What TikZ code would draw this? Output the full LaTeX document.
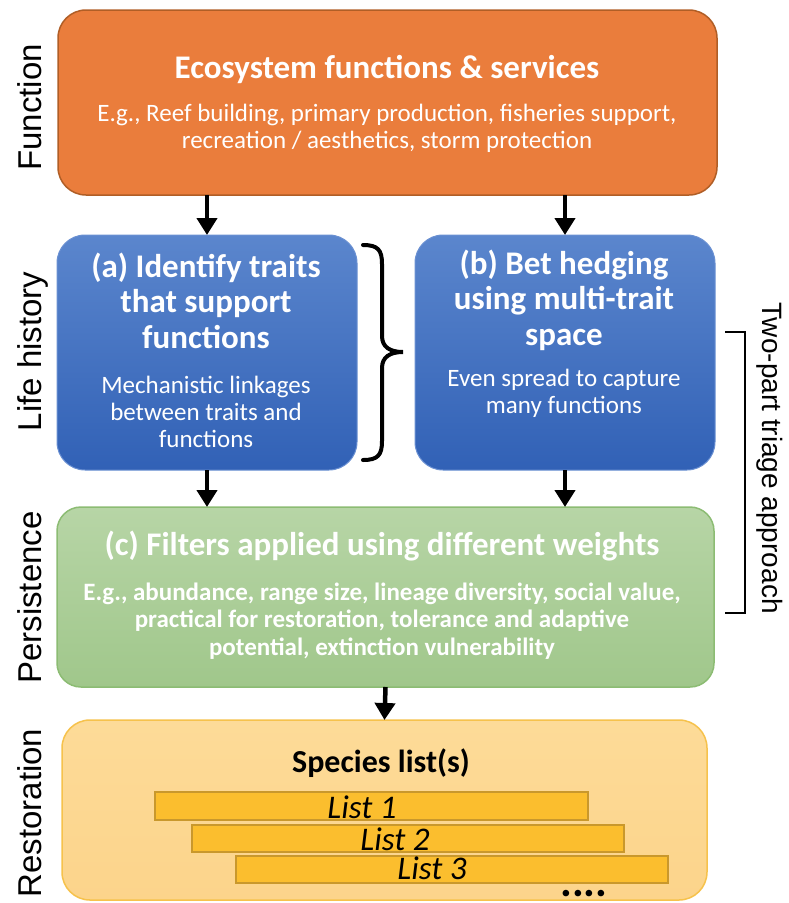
\documentclass[tikz,border=0pt]{standalone}
\usepackage{fontspec}
\setmainfont{Carlito}
\newfontfamily\sidefont{Liberation Sans}
\usetikzlibrary{arrows.meta}

\definecolor{orfill}{HTML}{EA7D3C}
\definecolor{ordraw}{HTML}{B05E26}
\definecolor{bltop}{HTML}{5B86CD}
\definecolor{blbot}{HTML}{3161B6}
\definecolor{bldraw}{HTML}{6A90D2}
\definecolor{grtop}{HTML}{B7D5A6}
\definecolor{grbot}{HTML}{A0C78B}
\definecolor{grdraw}{HTML}{8CBC73}
\definecolor{yetop}{HTML}{FDDB98}
\definecolor{yebot}{HTML}{FCD48B}
\definecolor{yedraw}{HTML}{F6C24C}
\definecolor{barfill}{HTML}{FBBE2E}
\definecolor{bardraw}{HTML}{C9982C}

\tikzset{
  box/.style={rectangle, rounded corners=28pt, inner sep=0pt, outer sep=0pt},
  orbox/.style={box, fill=orfill, draw=ordraw, line width=1.5pt},
  blbox/.style={box, top color=bltop, bottom color=blbot, draw=bldraw, line width=1pt},
  grbox/.style={box, rounded corners=24pt, top color=grtop, bottom color=grbot, draw=grdraw, line width=1.5pt},
  yebox/.style={box, top color=yetop, bottom color=yebot, draw=yedraw, line width=1.5pt},
  listbar/.style={rectangle, inner sep=0pt, fill=barfill, draw=bardraw, line width=2pt},
  % multi-line texts are anchored on the baseline of their last line
  ttl/.style={anchor=base, align=center, text=white, font=\fontsize{33}{35.5}\selectfont\bfseries},
  body/.style={anchor=base, align=center, text=white, font=\fontsize{25}{27}\selectfont},
  listtxt/.style={anchor=base, font=\fontsize{33}{35}\selectfont\itshape},
  side/.style={anchor=base, font=\sidefont\fontsize{33}{35}\selectfont},
  arr/.style={line width=4.5pt, -{Triangle[length=17pt,width=20pt]}},
  bracebar/.style={line width=4pt, line cap=round},
}

\begin{document}
\begin{tikzpicture}[x=1pt, y=-1pt]
\useasboundingbox (0,0) rectangle (788,903);

% main boxes
\node[orbox, minimum width=659pt, minimum height=185pt] (fn) at (387.5,102.5) {};
\node[blbox, minimum width=300pt, minimum height=235pt] (ta) at (207,352.5) {};
\node[blbox, minimum width=300pt, minimum height=235pt] (tb) at (565,352.5) {};
\node[grbox, minimum width=657pt, minimum height=180pt] (gf) at (385.5,597) {};
\node[yebox, minimum width=645pt, minimum height=180pt] (sl) at (384.5,810) {};

% box texts
\node[ttl] (fnT) at (387,78) {Ecosystem functions \& services};
\node[body] (fnB) at (387,148) {E.g., Reef building, primary production, fisheries support,\\recreation / aesthetics, storm protection};

\node[ttl] (taT) at (206,348) {(a) Identify traits\\that support\\functions};
\node[body] (taB) at (206,447) {Mechanistic linkages\\between traits and\\functions};

\node[ttl] (tbT) at (564,345) {(b) Bet hedging\\using multi-trait\\space};
\node[body] (tbB) at (564,413) {Even spread to capture\\many functions};

\node[ttl] (gfT) at (382,555) {(c) Filters applied using different weights};
\node[body, font=\fontsize{25}{27.5}\selectfont\bfseries] (gfB) at (382,655) {E.g., abundance, range size, lineage diversity, social value,\\practical for restoration, tolerance and adaptive\\potential, extinction vulnerability};

% species lists
\node[anchor=base, font=\fontsize{32}{34}\selectfont\bfseries] (slT) at (381,772) {Species list(s)};
\node[listbar, minimum width=433pt, minimum height=28pt] (l1) at (371.5,806) {};
\node[listbar, minimum width=432pt, minimum height=27pt] (l2) at (408,838.5) {};
\node[listbar, minimum width=432pt, minimum height=27pt] (l3) at (451.5,869.5) {};
\node[listtxt] (l1t) at (362,818) {List 1};
\node[listtxt] (l2t) at (395,850) {List 2};
\node[listtxt] (l3t) at (432,879) {List 3};
\node[anchor=base, inner sep=0pt, text depth=0pt, text height=8pt, font=\fontsize{44}{44}\selectfont\bfseries] (dots) at (584,896) {....};

% stage labels
\node[side, rotate=90] (sFn) at (41,107.5) {Function};
\node[side, rotate=90] (sLh) at (41,351.5) {Life history};
\node[side, rotate=90] (sPe) at (41,597.5) {Persistence};
\node[side, rotate=90] (sRe) at (41,813) {Restoration};
\node[side, rotate=-90, font=\sidefont\fontsize{28}{30}\selectfont] (sTw) at (762,458) {Two-part triage approach};

% flow arrows
\draw[arr] (ta.north |- fn.south) -- (ta.north);
\draw[arr] (tb.north |- fn.south) -- (tb.north);
\draw[arr] (ta.south) -- (ta.south |- gf.north);
\draw[arr] (tb.south) -- (tb.south |- gf.north);
\draw[arr] (gf.south) -- (sl.north);

% curly brace joining (a) and (b)
\draw[bracebar] (363,245) .. controls (378,245) and (382,250) .. (382,264)
  -- (382,336) .. controls (382,347) and (390,352) .. (403,352)
  .. controls (390,352) and (382,357) .. (382,368)
  -- (382,441) .. controls (382,455) and (378,460) .. (363,460);

% bracket for the two-part triage
\draw[line width=2.5pt] (725,332) -- (745,332) -- (745,613) -- (725,613);
\end{tikzpicture}
\end{document}
